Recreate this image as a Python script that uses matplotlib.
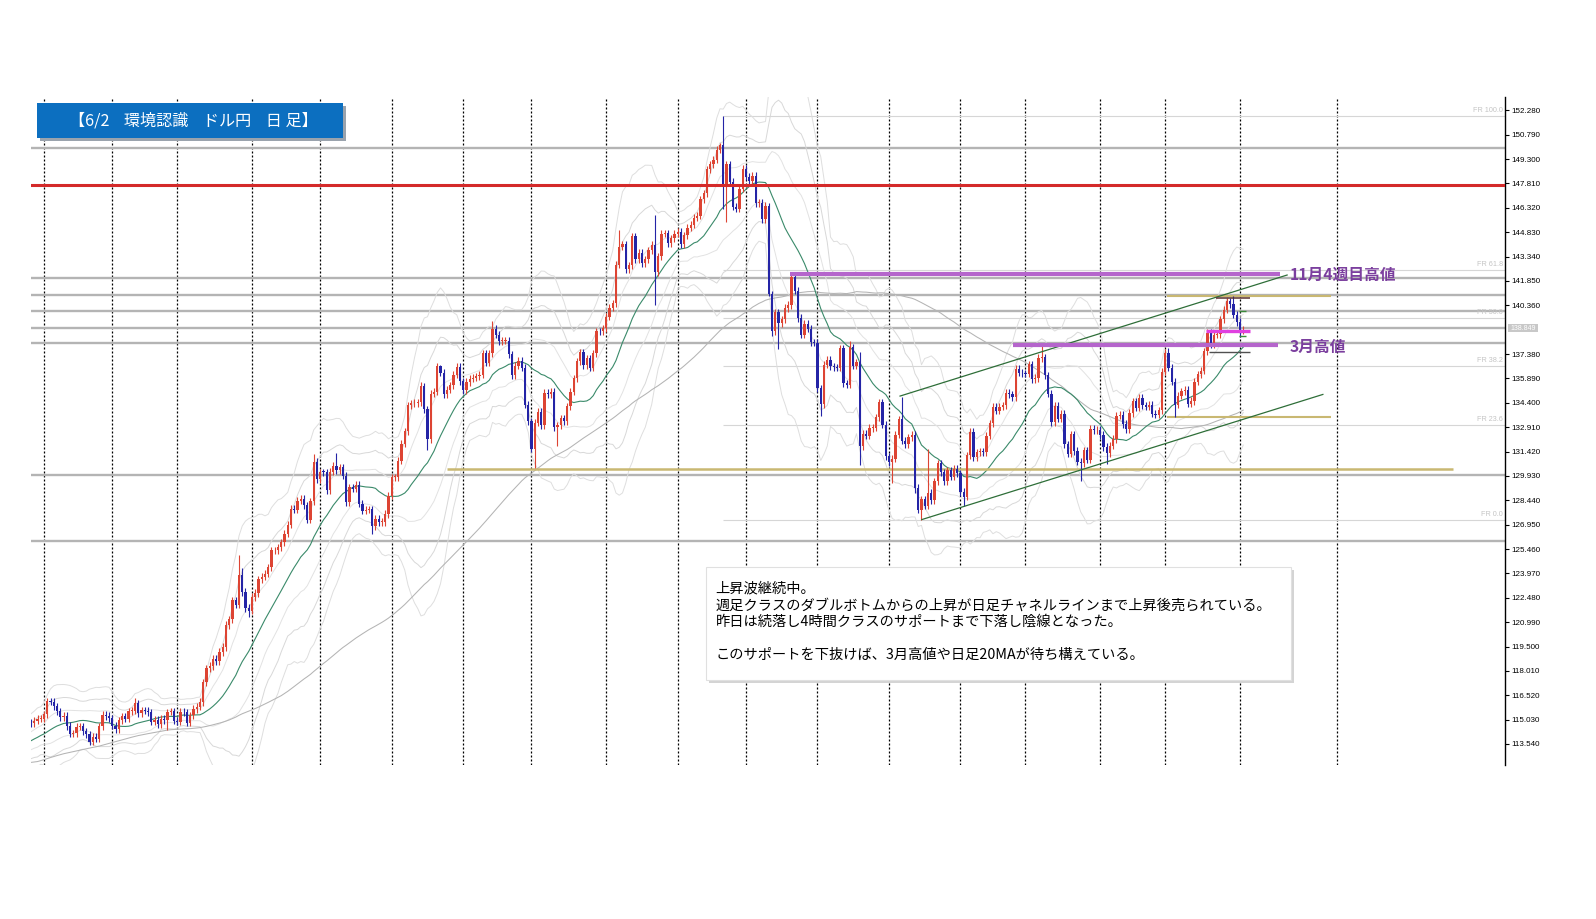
import numpy as np
import pandas as pd
import matplotlib
matplotlib.use("Agg")
import matplotlib.pyplot as plt
from matplotlib.patches import Rectangle

# ---------------- DATA (USD/JPY daily closes) ----------------
# warm-up history (only used for the moving averages / bands, not drawn as candles)
pre_aug21 = [109.60, 109.23, 109.45, 109.77, 109.75, 109.79, 109.70, 109.68, 110.02, 110.09, 109.83, 109.90, 110.01]
pre_sep21 = [110.00, 109.93, 109.71, 109.82, 110.28, 110.23, 109.74, 109.92, 109.69, 109.41, 109.42, 109.92, 109.42,
             109.38, 109.78, 110.27, 110.73, 110.77, 111.52, 111.45, 111.99, 111.29]
pre_oct21 = [111.06, 110.92, 111.42, 111.61, 112.20, 113.27, 113.60, 113.58, 114.17, 114.30, 114.22, 114.35, 114.05,
             113.54, 113.73, 113.91, 114.09, 113.81, 113.60, 113.57, 113.97]
pre_nov21 = [114.01, 113.97, 114.02, 113.70, 113.41, 112.88, 113.24, 114.12, 113.98, 114.09, 114.80, 114.85, 114.19,
             114.04, 114.79, 115.07, 115.41, 115.38, 115.33, 113.39, 113.51, 113.14]
pre_dec21 = [112.80, 113.09, 112.80, 113.46, 113.50, 113.64, 113.42, 113.42, 113.69, 113.72, 114.04, 113.83, 113.59,
             113.70, 113.57, 114.07, 114.42, 114.38]

dec21 = [114.83, 114.82, 114.97, 115.08, 115.08]
jan22 = [115.36, 116.14, 116.13, 115.84, 115.55, 115.19, 115.28, 114.64, 114.18, 114.19, 114.60, 114.62, 114.31,
         114.13, 113.68, 113.98, 113.87, 114.63, 115.34, 115.25, 115.11]
feb22 = [114.67, 114.46, 114.98, 115.24, 115.09, 115.55, 115.57, 116.04, 115.42, 115.60, 115.58, 115.47, 114.91,
         115.01, 114.76, 115.07, 115.00, 115.52, 115.55, 114.97]
mar22 = [114.90, 115.51, 115.47, 114.83, 115.29, 115.68, 115.83, 116.11, 117.31, 118.17, 118.31, 118.74, 118.59,
         119.17, 119.47, 120.82, 121.17, 122.33, 122.06, 123.85, 122.83, 121.85, 121.70]
apr22 = [122.53, 122.77, 123.60, 123.76, 123.96, 124.34, 125.37, 125.38, 125.57, 125.86, 126.40, 126.94, 127.91,
         127.86, 128.42, 128.52, 128.14, 127.24, 128.37, 130.80, 129.74]
may22 = [130.16, 130.15, 129.07, 130.18, 130.56, 130.27, 130.45, 129.94, 128.34, 129.24, 129.15, 129.39, 128.23,
         127.79, 127.87, 127.89, 126.85, 127.31, 127.11, 127.11, 127.60, 128.72]
jun22 = [129.85, 129.85, 130.87, 131.89, 132.66, 134.24, 134.36, 134.39, 134.42, 135.44, 134.00, 132.18, 134.96,
         135.08, 136.64, 136.23, 134.92, 135.20, 135.46, 136.12, 136.59, 135.72]
jul22 = [135.18, 135.67, 135.88, 135.93, 136.01, 136.12, 137.43, 136.86, 137.42, 138.94, 138.56, 138.16, 138.19,
         138.19, 137.37, 136.07, 136.67, 136.96, 136.54, 134.27, 133.26]
aug22 = [131.60, 133.19, 133.83, 133.02, 135.02, 134.93, 135.06, 132.91, 133.03, 133.46, 133.29, 134.19, 135.07,
         135.89, 136.93, 137.49, 136.70, 137.11, 136.55, 137.43, 138.78, 138.76, 138.96]
sep22 = [139.66, 140.20, 140.48, 142.83, 143.95, 144.10, 142.55, 142.81, 144.58, 143.17, 143.56, 142.92, 143.16,
         143.73, 144.05, 142.38, 143.36, 144.74, 144.77, 144.16, 144.46, 144.74]
oct22 = [144.86, 144.11, 144.63, 145.10, 145.28, 145.71, 145.84, 146.85, 147.21, 148.68, 148.99, 149.26, 149.88,
         150.14, 147.65, 148.99, 147.91, 146.38, 146.26, 147.48, 148.71]
nov22 = [148.21, 147.93, 148.27, 146.61, 146.61, 145.63, 146.44, 141.02, 138.79, 139.93, 139.28, 139.51, 140.19,
         140.38, 142.06, 141.25, 139.58, 138.56, 139.21, 138.93, 138.09, 138.07]
dec22 = [135.29, 134.31, 136.73, 137.03, 136.62, 136.57, 136.55, 137.72, 135.58, 135.50, 137.78, 136.66, 136.88,
         131.73, 132.49, 132.39, 132.86, 132.88, 133.52, 134.43, 133.07, 131.12]
jan23 = [130.76, 130.99, 132.44, 133.39, 132.08, 131.87, 132.28, 132.45, 129.19, 127.87, 128.51, 128.12, 128.89,
         128.43, 129.59, 130.70, 130.16, 129.61, 130.27, 129.88, 130.38, 130.09]
feb23 = [128.94, 128.65, 131.19, 132.62, 131.08, 131.38, 131.39, 131.38, 132.39, 133.15, 134.14, 133.92, 134.16,
         134.24, 135.01, 134.92, 134.73, 136.46, 136.23, 136.19]
mar23 = [136.17, 136.74, 135.83, 135.92, 137.14, 137.18, 136.08, 134.96, 133.20, 134.20, 133.42, 133.71, 131.85,
         131.29, 132.48, 131.45, 130.80, 130.72, 131.50, 130.91, 132.80, 132.71, 132.76]
apr23 = [132.43, 131.70, 131.33, 131.77, 132.18, 133.62, 133.68, 133.10, 132.79, 133.78, 134.48, 134.10, 134.69,
         134.24, 134.16, 134.27, 133.72, 133.66, 133.94, 136.30]
may23 = [137.46, 136.55, 135.68, 134.27, 134.84, 135.09, 135.19, 134.35, 134.51, 135.69, 136.13, 136.35, 137.55,
         138.66, 137.97, 138.57, 138.58, 139.50, 140.10, 140.60, 140.44, 139.79, 139.34]
jun23 = [138.80, 138.85]

# notable wick extremes
highs_known = {
    "2022-01-04": 116.35, "2022-02-10": 116.34, "2022-02-24": 115.70, "2022-03-28": 125.09,
    "2022-03-29": 124.30, "2022-04-28": 131.25, "2022-05-09": 131.35, "2022-06-15": 135.59,
    "2022-06-22": 136.71, "2022-07-14": 139.39, "2022-09-07": 144.99, "2022-09-22": 145.90,
    "2022-10-20": 150.29, "2022-10-21": 151.94, "2022-11-10": 146.59, "2022-11-21": 142.25,
    "2022-12-15": 138.18, "2022-12-20": 137.48, "2023-01-06": 134.77, "2023-01-18": 131.58,
    "2023-03-08": 137.91, "2023-05-02": 137.77, "2023-05-30": 140.93,
}
lows_known = {
    "2022-01-24": 113.47, "2022-02-24": 114.41, "2022-03-31": 121.28, "2022-05-24": 126.36,
    "2022-06-16": 131.49, "2022-08-02": 130.41, "2022-08-11": 131.73, "2022-09-22": 140.35,
    "2022-10-21": 146.23, "2022-10-24": 145.47, "2022-11-10": 140.90, "2022-11-11": 138.47,
    "2022-11-15": 137.68, "2022-12-02": 133.62, "2022-12-20": 130.57, "2023-01-03": 129.50,
    "2023-01-12": 128.87, "2023-01-16": 127.22, "2023-02-02": 128.08, "2023-03-24": 129.64,
    "2023-04-05": 130.63, "2023-05-04": 133.50, "2023-06-01": 138.43,
}

# horizontal levels
gray_levels = [150.00, 142.05, 140.99, 140.01, 138.99, 138.07, 129.98, 125.97]
red_level = 147.71
fr_high, fr_low = 151.94, 127.22
fr_ratios = [100.0, 61.8, 50.0, 38.2, 23.6, 0.0]
olive_long_level = 130.35
olive_short_levels = [140.93, 133.55]
nov_high_level = 142.25
mar_high_level = 137.91
support_level = 138.79
box_top_level, box_bottom_level = 140.81, 137.49
green_tick_levels = [140.01, 138.48]
upper_channel = [(268.4, 134.81), (387.5, 142.21)]   # (bar index, price)
lower_channel = [(275.1, 127.26), (398.5, 134.91)]
tick_start, tick_step, tick_count = 113.54, 1.49, 27
current_price_label = "138.849"

title_text = "【6/2    環境認識    ドル円    日 足】"
note_lines = ["上昇波継続中。",
              "週足クラスのダブルボトムからの上昇が日足チャネルラインまで上昇後売られている。",
              "昨日は続落し4時間クラスのサポートまで下落し陰線となった。",
              "",
              "このサポートを下抜けば、3月高値や日足20MAが待ち構えている。"]
label_nov = "11月4週目高値"
label_mar = "3月高値"

# ---------------- BUILD SERIES ----------------
pre_closes = np.array(pre_aug21 + pre_sep21 + pre_oct21 + pre_nov21 + pre_dec21)
closes = np.array(dec21 + jan22 + feb22 + mar22 + apr22 + may22 + jun22 + jul22 + aug22 + sep22 + oct22 +
                  nov22 + dec22 + jan23 + feb23 + mar23 + apr23 + may23 + jun23)
dates = pd.bdate_range("2021-12-27", "2023-06-02")
if len(dates) != len(closes):
    raise ValueError(f"length mismatch {len(dates)} vs {len(closes)}")

opens = np.concatenate([[pre_closes[-1]], closes[:-1]])
body_hi = np.maximum(opens, closes)
body_lo = np.minimum(opens, closes)
highs = body_hi + 0.22
lows = body_lo - 0.22
date_str = [d.strftime("%Y-%m-%d") for d in dates]
for k, v in highs_known.items():
    i = date_str.index(k)
    highs[i] = max(v, body_hi[i])
for k, v in lows_known.items():
    i = date_str.index(k)
    lows[i] = min(v, body_lo[i])

x = np.arange(len(closes))
allc = pd.Series(np.concatenate([pre_closes, closes]))
n0 = len(pre_closes)
sma20 = allc.rolling(20).mean().values[n0:]
sd20 = allc.rolling(20).std(ddof=0).values[n0:]
sma100 = allc.rolling(100, min_periods=90).mean().values[n0:]

# ---------------- FIGURE ----------------
W, H = 1596, 919
fig = plt.figure(figsize=(W / 100, H / 100), dpi=100)
fig.patch.set_facecolor("white")
ax_l, ax_r, ax_t, ax_b = 30.5, 1505.0, 97.0, 765.0
ax = fig.add_axes([ax_l / W, 1 - ax_b / H, (ax_r - ax_l) / W, (ax_b - ax_t) / H])
ax.set_facecolor("white")
xmin, xmax = 0.846, 454.54
ax.set_xlim(xmin, xmax)
ax.set_ylim(112.256, 153.093)

# vertical dashed grid at month starts
month_idx = [i for i in range(1, len(dates)) if dates[i].month != dates[i - 1].month]
for i in month_idx + [402.7]:
    ax.axvline(i, color="black", lw=0.9, ls=(0, (1.6, 1.6)), zorder=0.5)

# gray support / resistance lines
for lv in gray_levels:
    ax.axhline(lv, color="#b4b4b4", lw=1.7, zorder=1)

# Fibonacci retracement
i_peak = date_str.index("2022-10-21")
for r in fr_ratios:
    lv = fr_low + (fr_high - fr_low) * r / 100
    ax.hlines(lv, i_peak, xmax, color="#d6d6d6", lw=0.8, zorder=1)
    ax.text(453.9, lv + 0.12, f"FR {r:.1f}", ha="right", va="bottom", fontsize=5.2,
            color="#c4c4c4", family="Liberation Sans", zorder=2)

# bands and moving averages
band_cols = {1: "#e2e2e2", 2: "#d8d8d8", 3: "#dedede"}
for k in (1, 2, 3):
    ax.plot(x, sma20 + k * sd20, color=band_cols[k], lw=0.7, zorder=2)
    ax.plot(x, sma20 - k * sd20, color=band_cols[k], lw=0.7, zorder=2)
ax.plot(x, sma100, color="#b4b4b4", lw=0.75, zorder=2)
ax.plot(x, sma20, color="#3a8a6a", lw=0.8, zorder=2.5)

# olive lines
ax.hlines(olive_long_level, 128.9, 438.5, color="#c9b872", lw=1.8, zorder=2.6)
for lv in olive_short_levels:
    ax.hlines(lv, 350.4, 401.0, color="#c9b872", lw=1.5, zorder=2.6)

# candles
up = closes >= opens
cols = np.where(up, "#dd4433", "#2424a6")
ax.vlines(x, lows, highs, colors=cols, lw=0.8, zorder=3)
ax.bar(x, np.maximum(body_hi - body_lo, 0.05), bottom=body_lo, width=0.72, color=cols, linewidth=0, zorder=3.1)

# red resistance line
ax.axhline(red_level, color="#d42a2a", lw=2.2, zorder=4)

# channel lines
for seg in (upper_channel, lower_channel):
    ax.plot([seg[0][0], seg[1][0]], [seg[0][1], seg[1][1]], color="#2e6e38", lw=0.9, zorder=4)

# purple highs
ax.hlines(nov_high_level, 234.5, 385.3, color="#b565cc", lw=3.0, zorder=4)
ax.hlines(mar_high_level, 303.2, 384.7, color="#b565cc", lw=3.0, zorder=4)
ax.text(388.4, nov_high_level, label_nov, ha="left", va="center", fontsize=11.3, fontweight="bold",
        color="#7b3f9e", family=["Noto Sans CJK JP", "DejaVu Sans"], zorder=5)
ax.text(388.4, mar_high_level - 0.1, label_mar, ha="left", va="center", fontsize=11.3, fontweight="bold",
        color="#7b3f9e", family=["Noto Sans CJK JP", "DejaVu Sans"], zorder=5)

# small support box near last candles
ax.hlines(support_level, 362.5, 376.1, color="#e040e0", lw=2.4, zorder=4.5)
ax.hlines(box_top_level, 365.5, 376.1, color="#5a3030", lw=1.1, zorder=4.5)
ax.hlines(box_bottom_level, 363.5, 376.1, color="#505050", lw=1.0, zorder=4.5)
for lv in green_tick_levels:
    ax.hlines(lv, 372.7, 374.9, color="#3a8a3a", lw=1.0, zorder=4.5)

# axes styling
for s in ("left", "top", "bottom"):
    ax.spines[s].set_visible(False)
ax.spines["right"].set_color("black")
ax.spines["right"].set_linewidth(1.0)
ax.tick_params(axis="x", bottom=False, labelbottom=False)
ticks = [round(tick_start + tick_step * k, 3) for k in range(tick_count)]
ticks = [t for t in ticks if abs(t - 138.87) > 0.01]
ax.yaxis.tick_right()
ax.set_yticks(ticks)
ax.set_yticklabels([f"{t:.3f}" for t in ticks], fontsize=5.8, family="Liberation Sans")
ax.tick_params(axis="y", direction="out", length=3, width=0.8, pad=1.5, colors="black")


def fx(px):
    return px / W


def fy(py):
    return 1 - py / H


# current price label box
fig.patches.append(Rectangle((fx(1508.3), fy(332.3)), 30 / W, 8 / H, transform=fig.transFigure,
                             facecolor="#c8c8c8", edgecolor="none", zorder=6))
fig.text(fx(1523.3), fy(328.3), current_price_label, ha="center", va="center", fontsize=5.0,
         color="white", family="Liberation Sans", zorder=7)

# title box
fig.patches.append(Rectangle((fx(39.7), fy(140.7)), (343.3 - 36.7) / W, (137.7 - 103.3) / H,
                             transform=fig.transFigure, facecolor="#9aa3ad", edgecolor="none", zorder=6))
fig.patches.append(Rectangle((fx(36.7), fy(137.7)), (343.3 - 36.7) / W, (137.7 - 103.3) / H,
                             transform=fig.transFigure, facecolor="#0c6fc0", edgecolor="none", zorder=7))
fig.text(fx(193), fy(120.5), title_text, ha="center", va="center", fontsize=11.6, color="white",
         family=["Noto Sans CJK JP", "DejaVu Sans"], zorder=8)

# comment box
bx0, by0, bx1, by1 = 706.4, 567.0, 1290.6, 680.0
fig.patches.append(Rectangle((fx(bx0 + 3), fy(by1 + 3)), (bx1 - bx0) / W, (by1 - by0) / H,
                             transform=fig.transFigure, facecolor="#d4d4d4", edgecolor="none", zorder=6))
fig.patches.append(Rectangle((fx(bx0), fy(by1)), (bx1 - bx0) / W, (by1 - by0) / H,
                             transform=fig.transFigure, facecolor="white", edgecolor="#e0e0e0", lw=0.8, zorder=7))
line_y = [588.3, 605.6, 622.0, 638.3, 654.5]
for t, yy in zip(note_lines, line_y):
    if t:
        fig.text(fx(715.5), fy(yy), t, ha="left", va="center", fontsize=10.25, color="black",
                 family=["Noto Sans CJK JP", "DejaVu Sans"], zorder=8)

fig.savefig("out.png", dpi=100, facecolor="white")
